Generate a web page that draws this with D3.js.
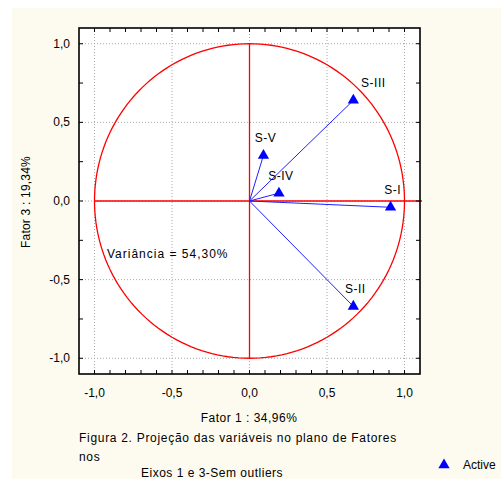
<!DOCTYPE html>
<html>
<head>
<meta charset="utf-8">
<script src="https://cdn.jsdelivr.net/npm/d3@7"></script>
<style>
 body { margin: 0; background: #ffffff; }
 text { font-family: "Liberation Sans", Arial, sans-serif; fill: #000; }
</style>
</head>
<body>
<div id="chart"></div>
<script>
 //Variables (loadings on factor 1 and factor 3).
 var names = ["S-I", "S-II", "S-III", "S-IV", "S-V"];
 var fator1 = [0.91, 0.67, 0.67, 0.19, 0.09];
 var fator3 = [-0.04, -0.67, 0.64, 0.05, 0.29];

 //Tick labels.
 var tickValues = [-1.0, -0.5, 0.0, 0.5, 1.0];
 var tickLabels = ["-1,0", "-0,5", "0,0", "0,5", "1,0"];

 //Texts.
 var xTitle = "Fator 1 : 34,96%";
 var yTitle = "Fator 3 : 19,34%";
 var varianceText = "Variância = 54,30%";
 var captionLines = ["Figura 2. Projeção das variáveis no plano de Fatores", "nos"];
 var captionLast = "Eixos 1 e 3-Sem outliers";
 var legendText = "Active";

 window.onload = function()
 {
  var width = 501, height = 479;
  var svg = d3.select("#chart").append("svg").attr("width", width).attr("height", height);

  //Cream panel.
  svg.append("rect").attr("x", 12).attr("y", 8).attr("width", width - 12).attr("height", height - 8)
   .attr("fill", "#fdfbf0");

  //Plot box.
  var left = 79, right = 420, top = 28, bottom = 374;
  var x = d3.scaleLinear().domain([-1.1, 1.1]).range([left, right]);
  var y = d3.scaleLinear().domain([-1.1, 1.1]).range([bottom, top]);

  svg.append("rect").attr("x", left).attr("y", top).attr("width", right - left).attr("height", bottom - top)
   .attr("fill", "#ffffff");

  //Dotted grid.
  var grid = svg.append("g").attr("stroke", "#a8a8a8").attr("stroke-dasharray", "1,2").attr("stroke-width", 1);
  tickValues.forEach(function(v)
  {
   grid.append("line").attr("x1", x(v)).attr("x2", x(v)).attr("y1", top).attr("y2", bottom);
   grid.append("line").attr("x1", left).attr("x2", right).attr("y1", y(v)).attr("y2", y(v));
  });

  //Unit circle and red axes.
  var angles = d3.range(0, 361, 2);
  var circle = d3.line().x(function(a) { return x(Math.cos(a * Math.PI / 180)); })
   .y(function(a) { return y(Math.sin(a * Math.PI / 180)); });
  svg.append("path").attr("d", circle(angles)).attr("fill", "none").attr("stroke", "#ff0000").attr("stroke-width", 1.3);
  svg.append("line").attr("x1", x(-1)).attr("x2", x(1.1) + 2).attr("y1", y(0)).attr("y2", y(0))
   .attr("stroke", "#ff0000").attr("stroke-width", 1.3);
  svg.append("line").attr("x1", x(0)).attr("x2", x(0)).attr("y1", y(1)).attr("y2", y(-1))
   .attr("stroke", "#ff0000").attr("stroke-width", 1.3);

  //Vectors.
  var idx = d3.range(names.length);
  svg.selectAll("line.vec").data(idx).enter().append("line").attr("class", "vec")
   .attr("x1", x(0)).attr("y1", y(0))
   .attr("x2", function(i) { return x(fator1[i]); })
   .attr("y2", function(i) { return y(fator3[i]); })
   .attr("stroke", "#2020ff").attr("stroke-width", 1);

  //Triangles.
  var tri = d3.symbol().type(d3.symbolTriangle).size(55);
  svg.selectAll("path.pt").data(idx).enter().append("path").attr("class", "pt")
   .attr("d", tri)
   .attr("transform", function(i) { return "translate(" + x(fator1[i]) + "," + y(fator3[i]) + ")"; })
   .attr("fill", "#0000ff");

  //Point labels.
  svg.selectAll("text.lbl").data(idx).enter().append("text").attr("class", "lbl")
   .attr("x", function(i) { return x(fator1[i]) + (names[i] == "S-III" ? 20 : 2); })
   .attr("y", function(i) { return y(fator3[i]) - 13; })
   .attr("text-anchor", "middle").attr("font-size", 12).attr("letter-spacing", 0.5)
   .text(function(i) { return names[i]; });

  //Frame and inner ticks.
  svg.append("rect").attr("x", left).attr("y", top).attr("width", right - left).attr("height", bottom - top)
   .attr("fill", "none").attr("stroke", "#000").attr("stroke-width", 1.6);
  var ticks = svg.append("g").attr("stroke", "#000").attr("stroke-width", 1);
  d3.range(-10, 11).forEach(function(k)
  {
   var v = k / 10;
   ticks.append("line").attr("x1", x(v)).attr("x2", x(v)).attr("y1", top).attr("y2", top + 4);
   ticks.append("line").attr("x1", x(v)).attr("x2", x(v)).attr("y1", bottom).attr("y2", bottom - 4);
  });
  d3.range(-4, 5).forEach(function(k)
  {
   var v = k / 4;
   ticks.append("line").attr("x1", left).attr("x2", left + 4).attr("y1", y(v)).attr("y2", y(v));
   ticks.append("line").attr("x1", right).attr("x2", right - 4).attr("y1", y(v)).attr("y2", y(v));
  });

  //Tick labels.
  svg.selectAll("text.xt").data(tickValues).enter().append("text").attr("class", "xt")
   .attr("x", function(d) { return x(d); }).attr("y", 397)
   .attr("text-anchor", "middle").attr("font-size", 12)
   .text(function(d, i) { return tickLabels[i]; });
  svg.selectAll("text.yt").data(tickValues).enter().append("text").attr("class", "yt")
   .attr("x", 70).attr("y", function(d) { return y(d) + 4; })
   .attr("text-anchor", "end").attr("font-size", 12)
   .text(function(d, i) { return tickLabels[i]; });

  //Titles.
  svg.append("text").attr("x", 249).attr("y", 422).attr("text-anchor", "middle").attr("font-size", 12)
   .attr("letter-spacing", 0.5).text(xTitle);
  svg.append("text").attr("transform", "translate(30,202) rotate(-90)").attr("text-anchor", "middle")
   .attr("font-size", 12).attr("letter-spacing", 0.2).text(yTitle);
  svg.append("text").attr("x", 107).attr("y", 258).attr("font-size", 12).attr("letter-spacing", 1)
   .text(varianceText);

  //Caption.
  captionLines.forEach(function(t, i)
  {
   svg.append("text").attr("x", 79).attr("y", 442 + i * 19).attr("font-size", 12)
    .attr("letter-spacing", 0.7).text(t);
  });
  svg.append("text").attr("x", 141).attr("y", 477).attr("font-size", 12).attr("letter-spacing", 0.5)
   .text(captionLast);

  //Legend.
  svg.append("path").attr("d", tri).attr("transform", "translate(444,465)").attr("fill", "#0000ff");
  svg.append("text").attr("x", 463).attr("y", 469).attr("font-size", 12).text(legendText);
 }
</script>
</body>
</html>
